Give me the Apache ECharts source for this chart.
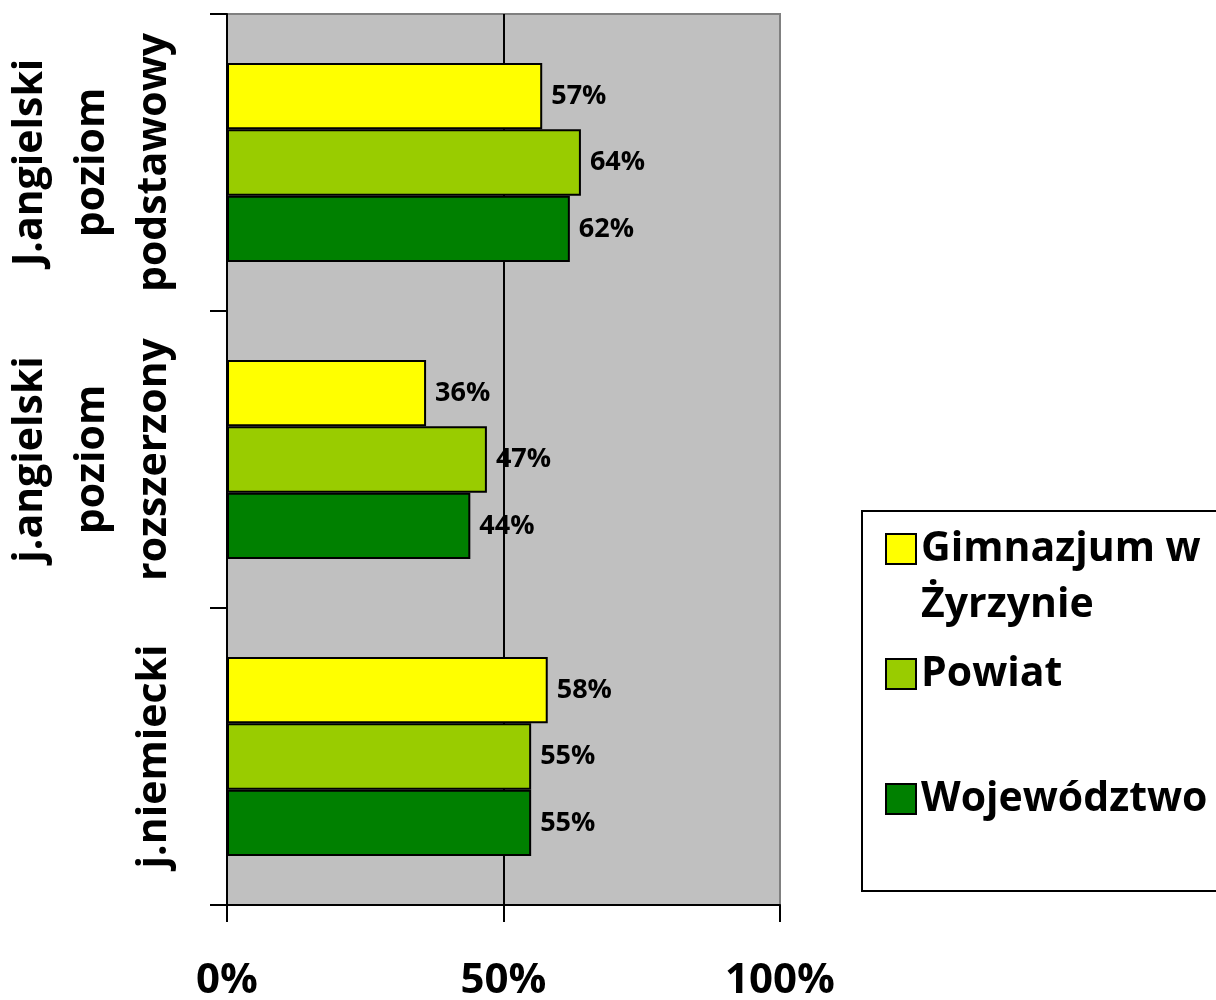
<!DOCTYPE html>
<html lang="pl">
<head>
  <meta charset="UTF-8">
  <title>Wyniki - języki obce</title>
  <script src="https://cdn.jsdelivr.net/npm/echarts@6/dist/echarts.min.js"></script>
</head>
<body style="margin:0">
  <div id="chart" style="width:1216px;height:1000px"></div>
  <script>
    // kategorie (od góry do dołu)
    var categories = [
      'J.angielski\npoziom\npodstawowy',
      'j.angielski\npoziom\nrozszerzony',
      'j.niemiecki'
    ]
    var seriesNames = ['Gimnazjum w Żyrzynie', 'Powiat', 'Województwo']
    var gimnazjum = [57, 36, 58]
    var powiat = [64, 47, 55]
    var wojewodztwo = [62, 44, 55]
    var xTicks = [0, 50, 100]

    var colors = ['#FFFF00', '#99CC00', '#008000']
    var font = '"Open Sans", sans-serif'

    var chart = echarts.init(document.getElementById('chart'))

    function barSeries(name, data, color) {
      return {
        name: name,
        type: 'bar',
        data: data,
        barGap: '0%',
        barCategoryGap: '33%',
        itemStyle: { color: color, borderColor: '#000', borderWidth: 2 },
        label: {
          show: true,
          position: 'right',
          distance: 9,
          formatter: '{c}%',
          color: '#000',
          fontFamily: font,
          fontWeight: 'bold',
          fontSize: 27
        }
      }
    }

    // jedna legenda na wpis, żeby ustawić pozycje jak w Excelu
    function legendAt(name, top, label) {
      return {
        data: [name],
        left: 880,
        top: top,
        orient: 'vertical',
        itemWidth: 30,
        itemHeight: 30,
        icon: 'rect',
        itemStyle: { borderColor: '#000', borderWidth: 2 },
        selectedMode: false,
        formatter: function () { return label },
        textStyle: {
          fontFamily: font,
          fontWeight: 'bold',
          fontSize: 41,
          color: '#000',
          lineHeight: 56
        }
      }
    }

    var option = {
      animation: false,
      backgroundColor: '#fff',
      grid: {
        left: 227,
        right: 436,
        top: 14,
        bottom: 95,
        containLabel: false,
        outerBoundsMode: 'none',
        show: true,
        backgroundColor: '#C0C0C0',
        borderColor: '#808080',
        borderWidth: 2
      },
      xAxis: {
        type: 'value',
        min: 0,
        max: 100,
        interval: 50,
        axisLine: { show: true, lineStyle: { color: '#000', width: 2 } },
        axisTick: { show: true, length: 17, lineStyle: { color: '#000', width: 2 } },
        splitLine: { show: true, lineStyle: { color: ['#000', '#000', '#808080'], width: 2 } },
        axisLabel: {
          margin: 55,
          formatter: function (v) { return xTicks.indexOf(v) >= 0 ? v + '%' : '' },
          fontFamily: font,
          fontWeight: 'bold',
          fontSize: 42,
          color: '#000'
        }
      },
      yAxis: {
        type: 'category',
        inverse: true,
        data: categories,
        axisLine: { show: true, lineStyle: { color: '#000', width: 2 } },
        axisTick: { show: true, length: 17, lineStyle: { color: '#000', width: 2 } },
        axisLabel: {
          interval: 0,
          hideOverlap: false,
          rotate: 90,
          margin: 42,
          fontFamily: font,
          fontWeight: 'bold',
          fontSize: 41,
          lineHeight: 62,
          color: '#000'
        }
      },
      legend: [
        legendAt(seriesNames[0], 460, '\nGimnazjum w\nŻyrzynie'),
        legendAt(seriesNames[1], 641, 'Powiat'),
        legendAt(seriesNames[2], 766, 'Województwo')
      ],
      graphic: [{
        type: 'rect',
        shape: { x: 862, y: 511, width: 400, height: 380 },
        style: { fill: 'none', stroke: '#000', lineWidth: 2 },
        silent: true,
        z: -1
      }],
      series: [
        barSeries(seriesNames[0], gimnazjum, colors[0]),
        barSeries(seriesNames[1], powiat, colors[1]),
        barSeries(seriesNames[2], wojewodztwo, colors[2])
      ]
    }
    chart.setOption(option)
  </script>
</body>
</html>
